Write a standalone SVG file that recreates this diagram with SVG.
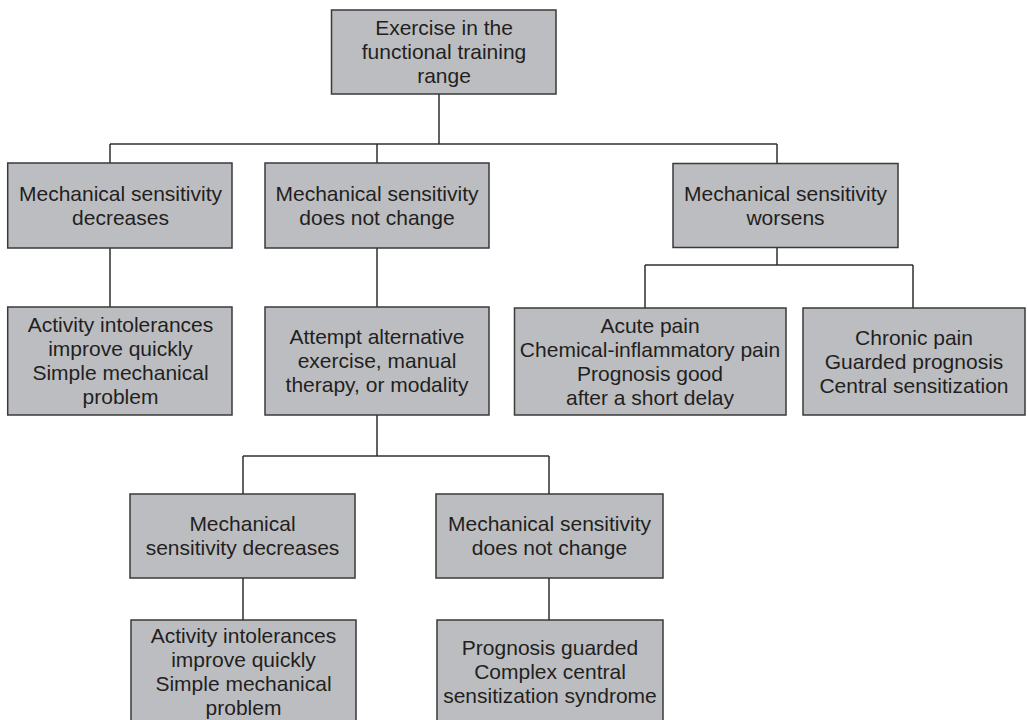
<svg xmlns="http://www.w3.org/2000/svg" width="1028" height="720" viewBox="0 0 1028 720">
<style>
.box{fill:#bcbdc0;stroke:#3a3a3a;stroke-width:1.5}
.t{font-family:"Liberation Sans",Arial,sans-serif;font-size:21px;fill:#231f20;text-anchor:middle}
.c{stroke:#2f2f2f;stroke-width:1.5;fill:none}
</style>
<rect width="1028" height="720" fill="#ffffff"/>
<g id="connectors">
<path class="c" d="M439,94V144M110,144H777M110,144V163M377,144V163M777,144V163.5"/>
<path class="c" d="M110,248V307M377,248V307M777,247.5V265M645,265H913M645,265V308M913,265V308"/>
<path class="c" d="M377,415V456M243,456H549M243,456V494M549,456V494M243,578V620M549,578V620"/>
</g>
<g id="n0"><rect class="box" x="331.5" y="10" width="224.5" height="84"/>
<text class="t"><tspan x="444" y="35.4">Exercise in the</tspan><tspan x="444" y="59.4">functional training</tspan><tspan x="444" y="83.4">range</tspan></text></g>
<g id="n1"><rect class="box" x="7.7" y="163" width="224.3" height="85"/>
<text class="t"><tspan x="120.5" y="201">Mechanical sensitivity</tspan><tspan x="120.5" y="225">decreases</tspan></text></g>
<g id="n2"><rect class="box" x="265" y="163" width="224" height="85"/>
<text class="t"><tspan x="377" y="201">Mechanical sensitivity</tspan><tspan x="377" y="225">does not change</tspan></text></g>
<g id="n3"><rect class="box" x="673" y="163.5" width="225" height="84"/>
<text class="t"><tspan x="785.5" y="201">Mechanical sensitivity</tspan><tspan x="785.5" y="225">worsens</tspan></text></g>
<g id="n4"><rect class="box" x="7.7" y="307" width="224.3" height="108"/>
<text class="t"><tspan x="120.5" y="332.4">Activity intolerances</tspan><tspan x="120.5" y="356.4">improve quickly</tspan><tspan x="120.5" y="380.4">Simple mechanical</tspan><tspan x="120.5" y="404.4">problem</tspan></text></g>
<g id="n5"><rect class="box" x="265" y="307" width="224" height="108"/>
<text class="t"><tspan x="377" y="344.4">Attempt alternative</tspan><tspan x="377" y="368.4">exercise, manual</tspan><tspan x="377" y="392.4">therapy, or modality</tspan></text></g>
<g id="n6"><rect class="box" x="514.5" y="308" width="271.5" height="107"/>
<text class="t"><tspan x="650" y="332.9">Acute pain</tspan><tspan x="650" y="356.9">Chemical-inflammatory pain</tspan><tspan x="650" y="380.9">Prognosis good</tspan><tspan x="650" y="404.9">after a short delay</tspan></text></g>
<g id="n7"><rect class="box" x="803" y="308" width="222" height="107"/>
<text class="t"><tspan x="914" y="344.9">Chronic pain</tspan><tspan x="914" y="368.9">Guarded prognosis</tspan><tspan x="914" y="392.9">Central sensitization</tspan></text></g>
<g id="n8"><rect class="box" x="130" y="494" width="225" height="84"/>
<text class="t"><tspan x="242.5" y="531">Mechanical</tspan><tspan x="242.5" y="555">sensitivity decreases</tspan></text></g>
<g id="n9"><rect class="box" x="436" y="494" width="227" height="84"/>
<text class="t"><tspan x="549.5" y="531">Mechanical sensitivity</tspan><tspan x="549.5" y="555">does not change</tspan></text></g>
<g id="n10"><rect class="box" x="131" y="620" width="225" height="104"/>
<text class="t"><tspan x="243.5" y="643">Activity intolerances</tspan><tspan x="243.5" y="667">improve quickly</tspan><tspan x="243.5" y="691">Simple mechanical</tspan><tspan x="243.5" y="715">problem</tspan></text></g>
<g id="n11"><rect class="box" x="437" y="620" width="226" height="104"/>
<text class="t"><tspan x="550" y="655">Prognosis guarded</tspan><tspan x="550" y="679">Complex central</tspan><tspan x="550" y="703">sensitization syndrome</tspan></text></g>
</svg>
